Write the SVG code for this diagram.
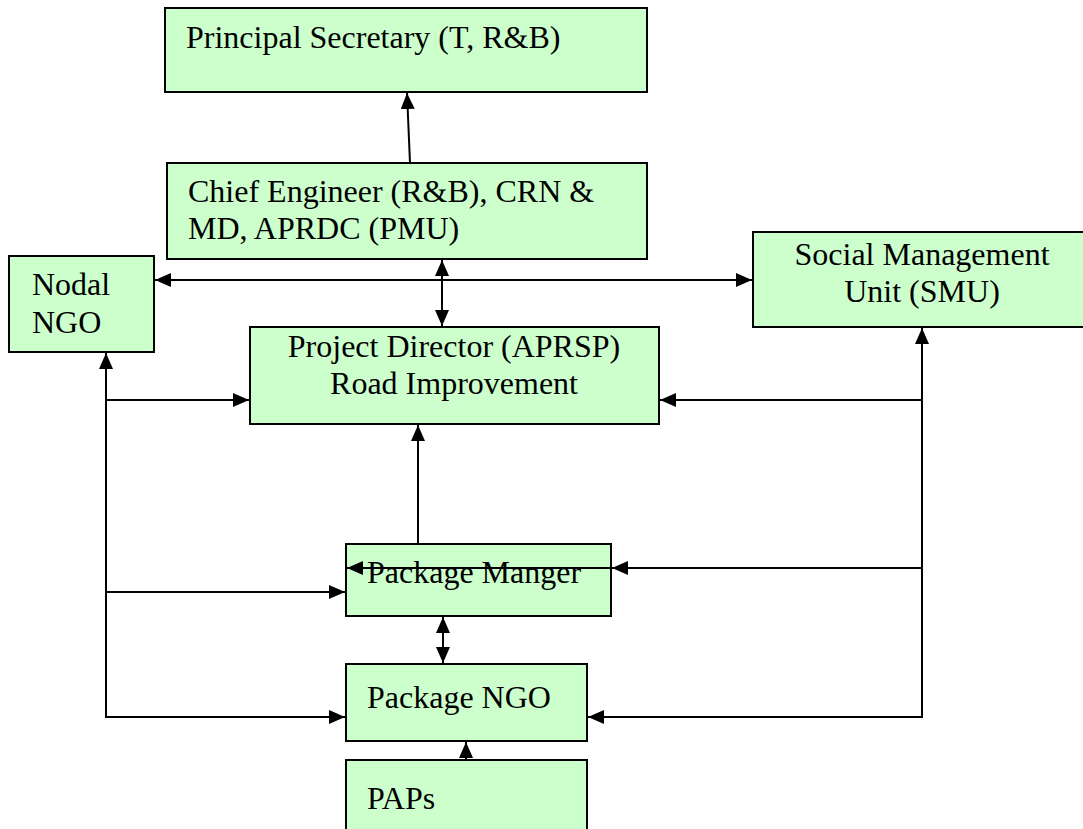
<svg xmlns="http://www.w3.org/2000/svg" width="1083" height="829" viewBox="0 0 1083 829">
<style>
.box{fill:#ccffcc;stroke:#000;stroke-width:2}
.t{font-family:"Liberation Serif","Times New Roman",serif;font-size:32px;fill:#000}
.c{stroke:#000;stroke-width:2;fill:none}
</style>
<defs>
<marker id="ah" markerUnits="userSpaceOnUse" markerWidth="16" markerHeight="14" refX="16" refY="7" orient="auto-start-reverse">
<path d="M0,0 L16,7 L0,14 z" fill="#000"/>
</marker>
</defs>
<rect width="1083" height="829" fill="#fff"/>
<g id="principal"><rect class="box" x="165" y="8" width="482" height="84"/><text class="t" x="186" y="48">Principal Secretary (T, R&amp;B)</text></g>
<g id="chief"><rect class="box" x="167" y="163" width="480" height="96"/><text class="t" x="188" y="202">Chief Engineer (R&amp;B), CRN &amp;</text><text class="t" x="188" y="239">MD, APRDC (PMU)</text></g>
<g id="nodal"><rect class="box" x="9" y="256" width="145" height="96"/><text class="t" x="32" y="295">Nodal</text><text class="t" x="32" y="333">NGO</text></g>
<g id="smu"><rect class="box" x="753" y="232" width="340" height="95"/><text class="t" x="922" y="265" text-anchor="middle">Social Management</text><text class="t" x="922" y="302" text-anchor="middle">Unit (SMU)</text></g>
<g id="pd"><rect class="box" x="250" y="327" width="409" height="97"/><text class="t" x="454" y="357" text-anchor="middle">Project Director (APRSP)</text><text class="t" x="454" y="394" text-anchor="middle">Road Improvement</text></g>
<g id="pm"><rect class="box" x="346" y="544" width="265" height="72"/><text class="t" x="367" y="583">Package Manger</text></g>
<g id="pngo"><rect class="box" x="346" y="664" width="241" height="77"/><text class="t" x="367" y="708">Package NGO</text></g>
<g id="paps"><rect class="box" x="346" y="760" width="241" height="80"/><text class="t" x="367" y="809">PAPs</text></g>
<g id="connectors">
<line class="c" x1="410" y1="163" x2="407" y2="93" marker-end="url(#ah)"/>
<line class="c" x1="155" y1="280" x2="752" y2="280" marker-start="url(#ah)" marker-end="url(#ah)"/>
<line class="c" x1="442" y1="260" x2="442" y2="326" marker-start="url(#ah)" marker-end="url(#ah)"/>
<line class="c" x1="106" y1="717" x2="106" y2="353" marker-end="url(#ah)"/>
<line class="c" x1="106" y1="400" x2="249" y2="400" marker-end="url(#ah)"/>
<line class="c" x1="106" y1="592" x2="345" y2="592" marker-end="url(#ah)"/>
<line class="c" x1="105" y1="717" x2="345" y2="717" marker-end="url(#ah)"/>
<line class="c" x1="922" y1="717" x2="922" y2="328" marker-end="url(#ah)"/>
<line class="c" x1="922" y1="400" x2="660" y2="400" marker-end="url(#ah)"/>
<line class="c" x1="922" y1="568" x2="612" y2="568" marker-end="url(#ah)"/>
<line class="c" x1="683" y1="568" x2="347" y2="568" marker-end="url(#ah)"/>
<line class="c" x1="923" y1="717" x2="588" y2="717" marker-end="url(#ah)"/>
<line class="c" x1="418" y1="544" x2="418" y2="425" marker-end="url(#ah)"/>
<line class="c" x1="443" y1="617" x2="443" y2="663" marker-start="url(#ah)" marker-end="url(#ah)"/>
<line class="c" x1="466" y1="760" x2="466" y2="742" marker-end="url(#ah)"/>
</g>
</svg>
